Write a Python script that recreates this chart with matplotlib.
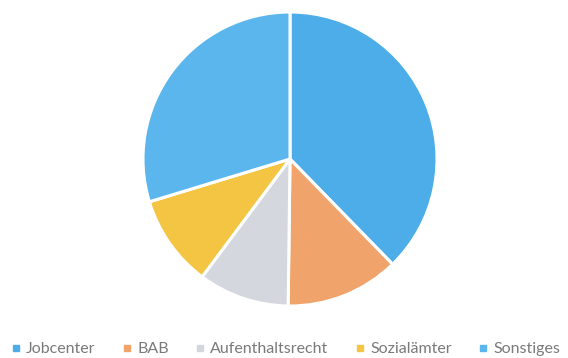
import matplotlib
matplotlib.use("Agg")
import matplotlib.pyplot as plt
from matplotlib.lines import Line2D

labels = ["Jobcenter", "BAB", "Aufenthaltsrecht", "Sozialämter", "Sonstiges"]
shares = [37.7, 12.5, 10.0, 10.1, 29.7]
colors = ["#4DADE8", "#F0A46C", "#D4D7DE", "#F4C443", "#5AB6EC"]

fig = plt.figure(figsize=(5.68, 3.58), dpi=100)
# pie centred at (290, 159) px, radius ~147 px
ax = fig.add_axes([(290 - 147) / 568, (358 - 159 - 147) / 358, 294 / 568, 294 / 358])
ax.pie(shares, colors=colors, startangle=90, counterclock=False,
       wedgeprops=dict(edgecolor="white", linewidth=2.2))
ax.set_xlim(-1, 1)
ax.set_ylim(-1, 1)
ax.set_aspect("equal")

handles = [Line2D([], [], marker="s", linestyle="none", markersize=5,
                  markerfacecolor=c, markeredgecolor=c) for c in colors]
fig.legend(handles, labels, loc="center", bbox_to_anchor=(0.502, 1 - 349 / 358),
           ncol=5, frameon=False, labelcolor="#7a7a7a",
           handletextpad=0.3, columnspacing=1.6, handlelength=0.7,
           prop={"family": "Lato", "size": 11.5})

fig.savefig("out.png", dpi=100)
